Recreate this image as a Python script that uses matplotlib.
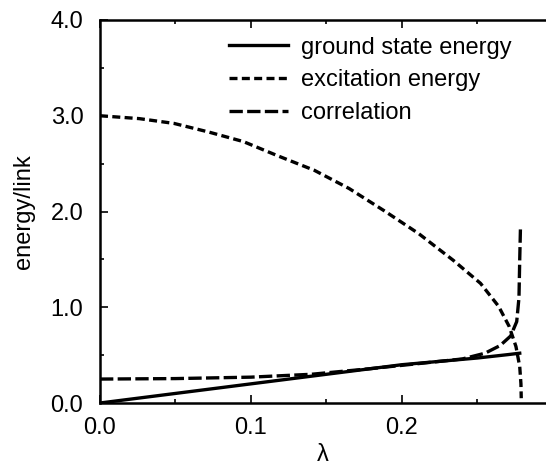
import matplotlib
matplotlib.use("Agg")
import matplotlib.pyplot as plt
from matplotlib.ticker import MultipleLocator, FormatStrFormatter

plt.rcParams['font.family'] = ['Liberation Sans', 'DejaVu Sans']

# ground state energy
lam_gs = [0.0, 0.05, 0.1, 0.15, 0.2, 0.25, 0.27, 0.278]
e_gs = [0.0, 0.10, 0.20, 0.30, 0.40, 0.47, 0.505, 0.52]

# excitation energy
lam_ex = [0.0, 0.026, 0.049, 0.072, 0.095, 0.118, 0.142, 0.165, 0.188, 0.211,
          0.234, 0.252, 0.264, 0.271, 0.2755, 0.278, 0.2788, 0.279]
e_ex = [3.00, 2.97, 2.92, 2.83, 2.73, 2.58, 2.43, 2.24, 2.01, 1.77,
        1.49, 1.25, 1.01, 0.80, 0.59, 0.38, 0.20, 0.05]

# correlation
lam_co = [0.0, 0.05, 0.1, 0.14, 0.18, 0.21, 0.24, 0.255, 0.265, 0.272,
          0.276, 0.2775, 0.278, 0.2785]
e_co = [0.25, 0.255, 0.27, 0.30, 0.36, 0.41, 0.46, 0.52, 0.60, 0.70,
        0.85, 1.10, 1.50, 1.84]

fig = plt.figure(figsize=(5.46, 4.70), dpi=100)
ax = fig.add_axes([100/546, 67/470, 446/546, 383/470])

LW = 2.4
ax.plot(lam_gs, e_gs, color='black', lw=LW, label='ground state energy')
ax.plot(lam_ex, e_ex, color='black', lw=LW, dashes=(2.4, 1.3), label='excitation energy')
ax.plot(lam_co, e_co, color='black', lw=LW, dashes=(4.0, 1.3), label='correlation')

ax.set_xlim(0, 0.2954)
ax.set_ylim(0, 4.0)
ax.xaxis.set_major_locator(MultipleLocator(0.1))
ax.xaxis.set_minor_locator(MultipleLocator(0.05))
ax.yaxis.set_major_locator(MultipleLocator(1.0))
ax.yaxis.set_minor_locator(MultipleLocator(0.5))
ax.xaxis.set_major_formatter(FormatStrFormatter('%.1f'))
ax.yaxis.set_major_formatter(FormatStrFormatter('%.1f'))
ax.tick_params(which='both', direction='in', top=True, right=False,
               labelsize=17, width=1.2)
ax.tick_params(axis='x', pad=10)
ax.tick_params(axis='y', pad=12)
ax.tick_params(which='major', length=6)
ax.tick_params(which='minor', length=3)
ax.spines['right'].set_visible(False)
for s in ['left', 'bottom', 'top']:
    ax.spines[s].set_linewidth(1.8)

ax.set_xlabel('λ', fontsize=17, labelpad=4)
ax.set_ylabel('energy/link', fontsize=17, labelpad=11)

ax.legend(loc='upper left', bbox_to_anchor=(112/446, 1.0), frameon=False,
          fontsize=17, handlelength=2.5, handletextpad=0.55, labelspacing=0.45,
          borderaxespad=0.3)

fig.savefig('out.png', dpi=100)
